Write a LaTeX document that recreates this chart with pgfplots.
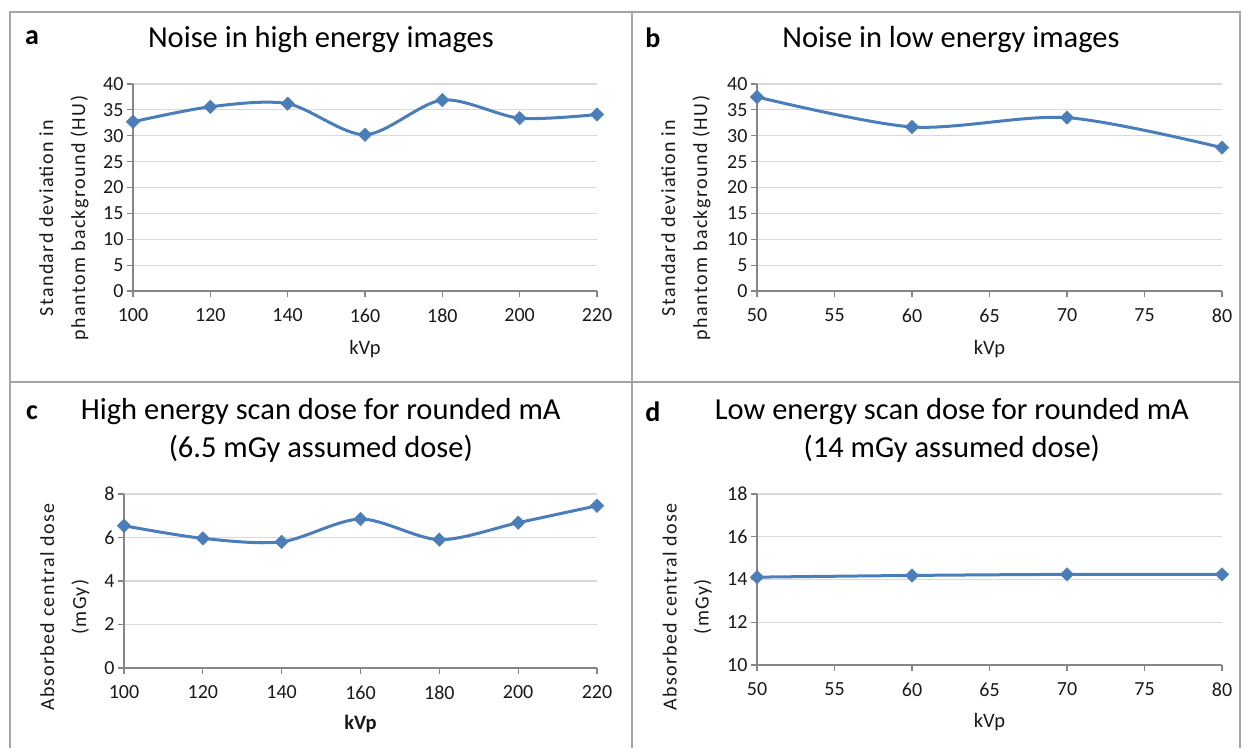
\documentclass[border=0pt]{standalone}
\usepackage{fontspec}
\setmainfont{Carlito}
\newfontfamily\ylfont{Carlito}[LetterSpace=7]
\usepackage{pgfplots}
\pgfplotsset{compat=1.18}
\definecolor{excelblue}{RGB}{74,126,187}
\definecolor{gridgray}{RGB}{217,217,217}
\definecolor{axisgray}{RGB}{134,134,134}
\definecolor{framegray}{RGB}{165,165,165}
\definecolor{txt}{RGB}{25,25,25}
\pgfplotsset{
  panel/.style={
    scale only axis, clip=false,
    axis x line*=bottom, axis y line*=left,
    axis line style={draw=axisgray, line width=1.2pt},
    ymajorgrids, grid style={draw=gridgray, line width=1.2pt},
    tick align=outside, major tick length=6pt,
    tick style={draw=axisgray, line width=1.2pt},
    tick label style={font=\fontsize{20}{23}\selectfont, text=txt},
    xticklabel style={yshift=-8pt},
    /pgf/number format/assume math mode=true,
    xlabel style={font=\fontsize{20.5}{24}\selectfont, text=txt, anchor=center},
    ylabel style={font=\ylfont\fontsize{20}{32}\selectfont, align=center, text=txt, anchor=center},
    title style={font=\fontsize{30.5}{38}\selectfont, align=center, text=black, anchor=center},
  },
  exline/.style={draw=excelblue, line width=3pt, smooth,
      mark=square*, mark size=4.7pt, mark options={rotate=45, fill=excelblue, draw=excelblue, line width=0.6pt}},
}
\begin{document}
\begin{tikzpicture}[x=1pt,y=1pt]
\useasboundingbox (0,0) rectangle (1243,748);
% frames
\draw[framegray, line width=2pt] (10,0) -- (10,736) -- (1240,736) -- (1240,0);
\draw[framegray, line width=2pt] (632,0) -- (632,736);
\draw[framegray, line width=2pt] (10,366) -- (1240,366);

% panel a
\begin{axis}[panel, at={(133pt,457pt)}, anchor=south west, width=464pt, height=207pt,
  xmin=100, xmax=220, ymin=0, ymax=40,
  xtick={100,120,...,220}, ytick={0,5,...,40},
  title={Noise in high energy images}, title style={at={(axis description cs:0.405,1.188)}},
  xlabel={kVp}, xlabel style={at={(axis description cs:0.5,-0.28)}},
  ylabel={Standard deviation in\\phantom background (HU)}, ylabel style={at={(axis description cs:-0.149,0.353)}}]
\addplot[exline] coordinates {(100,32.7) (120,35.6) (140,36.2) (160,30.2) (180,36.9) (200,33.4) (220,34.1)};
\end{axis}

% panel b
\begin{axis}[panel, at={(757pt,457pt)}, anchor=south west, width=465pt, height=207pt,
  xmin=50, xmax=80, ymin=0, ymax=40,
  xtick={50,55,...,80}, ytick={0,5,...,40},
  title={Noise in low energy images}, title style={at={(axis description cs:0.417,1.188)}},
  xlabel={kVp}, xlabel style={at={(axis description cs:0.5,-0.28)}},
  ylabel={Standard deviation in\\phantom background (HU)}, ylabel style={at={(axis description cs:-0.153,0.353)}}]
\addplot[exline] coordinates {(50,37.5) (60,31.7) (70,33.5) (80,27.7)};
\end{axis}

% panel c
\begin{axis}[panel, at={(124pt,80pt)}, anchor=south west, width=473pt, height=174pt,
  xmin=100, xmax=220, ymin=0, ymax=8,
  xtick={100,120,...,220}, ytick={0,2,...,8},
  title={High energy scan dose for rounded mA\\(6.5 mGy assumed dose)}, title style={at={(axis description cs:0.416,1.333)}},
  xlabel={\textbf{kVp}}, xlabel style={at={(axis description cs:0.5,-0.32)}},
  ylabel={Absorbed central dose\\(mGy)}, ylabel style={at={(axis description cs:-0.125,0.35)}}]
\addplot[exline] coordinates {(100,6.54) (120,5.96) (140,5.8) (160,6.85) (180,5.9) (200,6.68) (220,7.46)};
\end{axis}

% panel d
\begin{axis}[panel, at={(757pt,83pt)}, anchor=south west, width=465pt, height=171pt,
  xmin=50, xmax=80, ymin=10, ymax=18,
  xtick={50,55,...,80}, ytick={10,12,...,18},
  title={Low energy scan dose for rounded mA\\(14 mGy assumed dose)}, title style={at={(axis description cs:0.419,1.339)}},
  xlabel={kVp}, xlabel style={at={(axis description cs:0.5,-0.333)}},
  ylabel={Absorbed central dose\\(mGy)}, ylabel style={at={(axis description cs:-0.15,0.34)}}]
\addplot[exline] coordinates {(50,14.11) (60,14.19) (70,14.24) (80,14.24)};
\end{axis}

% panel letters
\node[font=\fontsize{28}{30}\selectfont\bfseries] at (32,710) {a};
\node[font=\fontsize{28}{30}\selectfont\bfseries] at (653,710) {b};
\node[font=\fontsize{28}{30}\selectfont\bfseries] at (32,335) {c};
\node[font=\fontsize{28}{30}\selectfont\bfseries] at (653,336) {d};
\end{tikzpicture}
\end{document}
